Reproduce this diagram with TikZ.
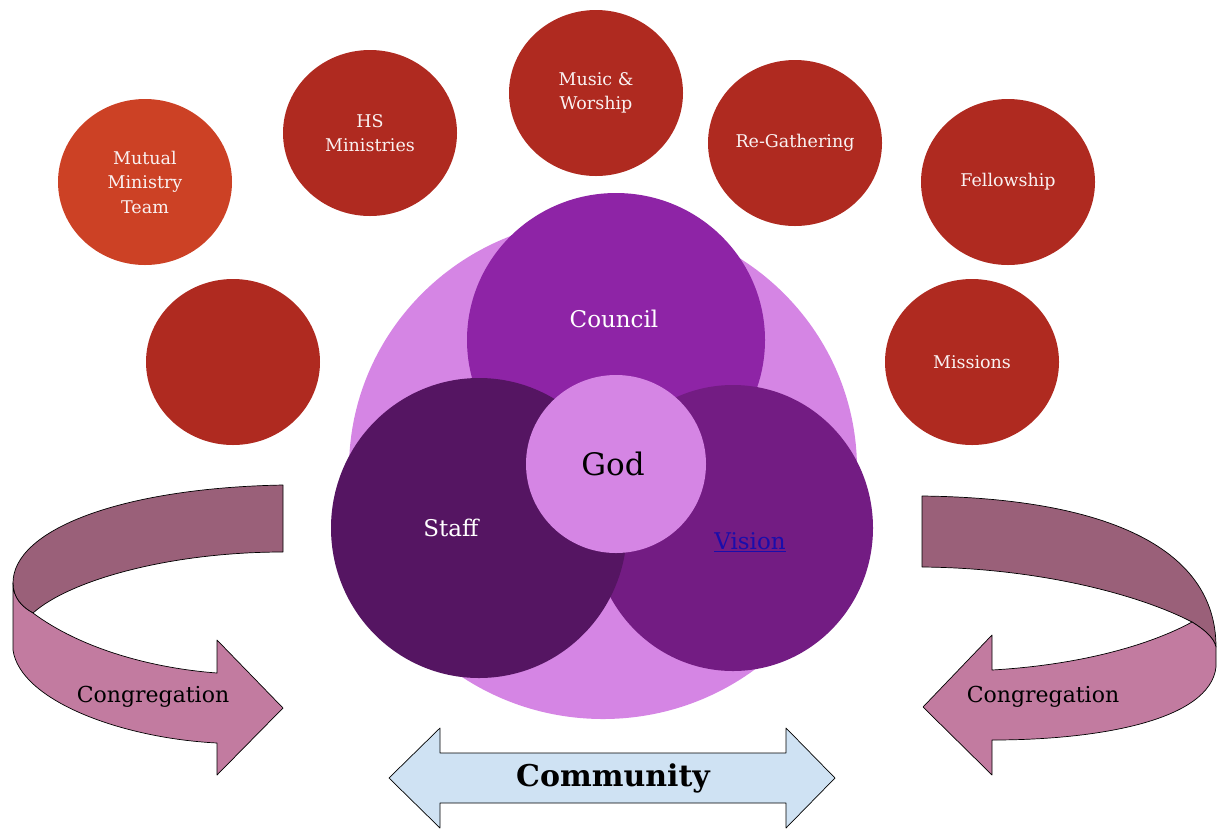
\documentclass[tikz,border=0pt]{standalone}
\usepackage{fontspec}
\setmainfont{DejaVu Serif}
\usepackage{xcolor}
\usepackage{tikz}
\usetikzlibrary{shapes.geometric}
\definecolor{berry}{HTML}{AF2A20}
\definecolor{berrylight}{HTML}{CC4125}
\definecolor{lilac}{HTML}{D585E4}
\definecolor{councilpurple}{HTML}{8E24A6}
\definecolor{staffpurple}{HTML}{551562}
\definecolor{visionpurple}{HTML}{731C83}
\definecolor{bandback}{HTML}{9A6079}
\definecolor{bandfront}{HTML}{C27BA0}
\definecolor{commblue}{HTML}{CFE2F3}
\definecolor{linkblue}{HTML}{1A0DAB}

\begin{document}
\begin{tikzpicture}[x=1pt,y=-1pt,
	ministry/.style={ellipse, fill=berry, minimum width=174pt, minimum height=166pt, inner sep=0pt, text=white!94!berry, align=center, font=\fontsize{17.5}{24.5}\selectfont},
	ring/.style={ellipse, inner sep=0pt},
	lbl/.style={font=\fontsize{23}{28}\selectfont},
	band/.style={draw=black, line width=0.7pt, line join=round}]
	\useasboundingbox (0,0) rectangle (1217,831);
	\node[ministry, fill=berrylight] (mutual) at (145,182) {Mutual\\Ministry\\Team};
	\node[ministry] (blank) at (233,362) {};
	\node[ministry] (hs) at (370,133) {HS\\Ministries};
	\node[ministry] (music) at (596,93) {Music \&\\Worship};
	\node[ministry] (regather) at (795,143) {Re-Gathering};
	\node[ministry] (fellowship) at (1008,182) {Fellowship};
	\node[ministry] (missions) at (972,362) {Missions};
	\node[ring, fill=lilac, minimum width=508pt, minimum height=500pt] (whole) at (603,469) {};
	\node[ring, fill=councilpurple, minimum width=298pt, minimum height=294pt] (council) at (616,340) {};
	\node[ring, fill=visionpurple, minimum width=280pt, minimum height=286pt] (vision) at (733,528) {};
	\node[ring, fill=staffpurple, minimum width=296pt, minimum height=300pt] (staff) at (479,528) {};
	\node[ring, fill=lilac, minimum width=180pt, minimum height=178pt] (god) at (616,464) {};
	\node[lbl, text=white] (councilname) at (614,319) {Council};
	\node[lbl, text=white] (staffname) at (451,528) {Staff};
	\node[lbl, text=linkblue] (visionname) at (750,542) {\underline{Vision}};
	\node[font=\fontsize{31}{36}\selectfont] (godname) at (613,464) {God};
	\filldraw[band, fill=bandback] (283,485) .. controls (120,488) and (13,530) .. (13,583) .. controls (13,598) and (22,607) .. (33,613) .. controls (70,580) and (170,552) .. (283,552) -- cycle;
	\filldraw[band, fill=bandfront] (13,583) -- (13,650) .. controls (20,700) and (120,738) .. (217,743) -- (217,775) -- (283,708) -- (217,640) -- (217,673) .. controls (150,668) and (80,648) .. (33,613) .. controls (22,607) and (13,598) .. (13,583) -- cycle;
	\filldraw[band, fill=bandback] (922,496) .. controls (1100,498) and (1216,545) .. (1216,647) .. controls (1214,638) and (1205,630) .. (1192,622) .. controls (1140,595) and (1040,568) .. (922,567) -- cycle;
	\filldraw[band, fill=bandfront] (1192,622) .. controls (1205,630) and (1214,638) .. (1216,647) -- (1216,667) .. controls (1210,720) and (1100,740) .. (992,740) -- (992,775) -- (923,707) -- (992,635) -- (992,670) .. controls (1080,665) and (1150,645) .. (1192,622) -- cycle;
	\filldraw[band, fill=commblue] (389,778) -- (440,728) -- (440,753) -- (786,753) -- (786,728) -- (835,778) -- (786,828) -- (786,803) -- (440,803) -- (440,828) -- cycle;
	\node[font=\fontsize{22}{26}\selectfont] (congleft) at (153,697) {Congregation};
	\node[font=\fontsize{22}{26}\selectfont] (congright) at (1043,697) {Congregation};
	\node[font=\bfseries\fontsize{30}{34}\selectfont] (community) at (613,778) {Community};
\end{tikzpicture}
\end{document}
